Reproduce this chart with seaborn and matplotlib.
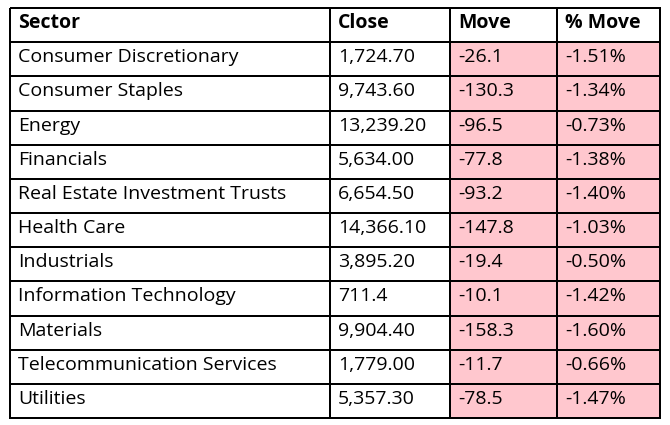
import matplotlib.pyplot as plt
import numpy as np
import seaborn as sns

columns = ['Sector', 'Close', 'Move', '% Move']
sectors = ['Consumer Discretionary', 'Consumer Staples', 'Energy', 'Financials',
           'Real Estate Investment Trusts', 'Health Care', 'Industrials',
           'Information Technology', 'Materials', 'Telecommunication Services', 'Utilities']
close = ['1,724.70', '9,743.60', '13,239.20', '5,634.00', '6,654.50', '14,366.10',
         '3,895.20', '711.4', '9,904.40', '1,779.00', '5,357.30']
move = [-26.1, -130.3, -96.5, -77.8, -93.2, -147.8, -19.4, -10.1, -158.3, -11.7, -78.5]
pct_move = [-1.51, -1.34, -0.73, -1.38, -1.40, -1.03, -0.50, -1.42, -1.60, -0.66, -1.47]

sns.set_style('white')
plt.rcParams['font.family'] = ['Open Sans', 'DejaVu Sans']

fig = plt.figure(figsize=(6.7, 4.25), dpi=100)
ax = fig.add_axes([0, 0, 1, 1])
ax.set_xlim(0, 670)
ax.set_ylim(425, 0)
ax.axis('off')

x_edges = np.array([10, 330, 450, 557, 660])
n_rows = len(sectors) + 1
y_edges = np.linspace(8, 418, n_rows + 1)

# cell fill: header and first two columns white, move columns pink when negative
fill = np.zeros((n_rows, 4))
for i in range(len(sectors)):
    fill[i + 1, 2] = 1 if move[i] < 0 else 0
    fill[i + 1, 3] = 1 if pct_move[i] < 0 else 0
cmap = plt.matplotlib.colors.ListedColormap(['white', '#ffc7ce'])
ax.pcolormesh(x_edges, y_edges, fill, cmap=cmap, vmin=0, vmax=1,
              edgecolor='black', linewidth=1.2)

rows = [columns] + [[s, c, f'{m:.1f}', f'{p:.2f}%']
                    for s, c, m, p in zip(sectors, close, move, pct_move)]
for r, row in enumerate(rows):
    yc = (y_edges[r] + y_edges[r + 1]) / 2 - 2
    for c, val in enumerate(row):
        ax.text(x_edges[c] + 8, yc, val, va='center', ha='left', fontsize=14,
                fontweight='bold' if r == 0 else 'normal', color='black')

fig.savefig('out.png', dpi=100)
